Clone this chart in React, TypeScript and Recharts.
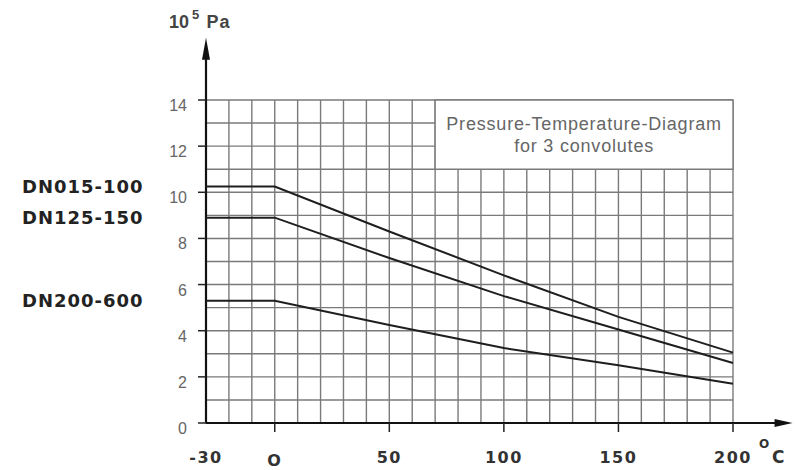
import { LineChart, Line, XAxis, YAxis, CartesianGrid, ReferenceArea, ReferenceLine, ReferenceDot } from "recharts";

// temperature in °C, pressure in 10^5 Pa
const TEMPS = [-30, 0, 50, 100, 150, 200];
const DN015_100 = [10.25, 10.25, 8.3, 6.4, 4.6, 3.05];
const DN125_150 = [8.9, 8.9, 7.15, 5.5, 4.05, 2.6];
const DN200_600 = [5.3, 5.3, 4.25, 3.25, 2.5, 1.7];

const SERIES = [
  { key: "dn015", name: "DN015-100", values: DN015_100 },
  { key: "dn125", name: "DN125-150", values: DN125_150 },
  { key: "dn200", name: "DN200-600", values: DN200_600 },
];

const X_TICKS = [-30, 0, 50, 100, 150, 200];
const Y_TICKS = [0, 2, 4, 6, 8, 10, 12, 14];
const GRID_T = [-30, -20, -10, 0, 10, 20, 30, 40, 50, 60, 70, 80, 90, 100, 110, 120, 130, 140, 150, 160, 170, 180, 190, 200];
const GRID_P = [0, 1, 2, 3, 4, 5, 6, 7, 8, 9, 10, 11, 12, 13, 14];

const BOX_TEXT = ["Pressure-Temperature-Diagram", "for 3 convolutes"];
const Y_UNIT = "Pa";

const rows = TEMPS.map((t, i) => {
  const row: Record<string, number> = { t };
  SERIES.forEach((s) => (row[s.key] = s.values[i]));
  return row;
});

const BOLD = "'DejaVu Sans', sans-serif";
const ARIAL = "'Liberation Sans', Arial, sans-serif";
const NARROW = "'Liberation Sans Narrow', 'Liberation Sans', Arial, sans-serif";

function XTick(props: any) {
  const { x, y, payload } = props;
  const v = payload.value;
  return (
    <g>
      {v !== -30 && <line x1={x} x2={x} y1={y} y2={y + 9} stroke="#222" strokeWidth={1.5} />}
      <text x={x} y={y + (v === 0 ? 43 : 40)} textAnchor="middle" fontFamily={BOLD} fontWeight="bold" fontSize={16} letterSpacing={1.5} fill="#333">
        {v === 0 ? "O" : v}
      </text>
      {v === 200 && (
        <text fontFamily={BOLD} fontWeight="bold" fill="#333">
          <tspan x={x + 26} y={y + 25} fontSize={12}>O</tspan>
          <tspan x={x + 39} y={y + 40} fontSize={17}>C</tspan>
        </text>
      )}
    </g>
  );
}

function YTick(props: any) {
  const { x, y, payload } = props;
  return (
    <g>
      <line x1={x - 8} x2={x} y1={y} y2={y} stroke="#222" strokeWidth={1.5} />
      <text x={x - 19} y={y + 11} textAnchor="end" fontFamily={NARROW} fontSize={16} fill="#666">
        {payload.value}
      </text>
    </g>
  );
}

const dnLabel = (name: string) => (props: any) =>
  props.index === 0 ? (
    <text x={props.x - 184} y={props.y + 6.5} fontFamily={BOLD} fontWeight="bold" fontSize={18} letterSpacing={1} fill="#222">
      {name}
    </text>
  ) : null;

const boxLabel = (props: any) => {
  const { x, y, width } = props.viewBox;
  return (
    <text textAnchor="middle" fontFamily={ARIAL} fontSize={18} letterSpacing={0.8} fill="#666">
      <tspan x={x + width / 2} y={y + 30}>{BOX_TEXT[0]}</tspan>
      <tspan x={x + width / 2} y={y + 52}>{BOX_TEXT[1]}</tspan>
    </text>
  );
};

const upArrow = (props: any) => {
  const { cx, cy } = props;
  return (
    <g>
      <path d={`M${cx},${cy} L${cx - 4},${cy + 22} L${cx + 4},${cy + 22} Z`} fill="#111" />
      <text fontFamily={ARIAL} fontWeight="bold" fill="#444">
        <tspan x={cx - 37} y={cy - 10} fontSize={18}>10</tspan>
        <tspan x={cx - 14} y={cy - 19} fontSize={13}>5</tspan>
        <tspan x={cx + 0.5} y={cy - 10} fontSize={18} letterSpacing={1}>{Y_UNIT}</tspan>
      </text>
    </g>
  );
};

const rightArrow = (props: any) => {
  const { cx, cy } = props;
  return <path d={`M${cx},${cy} L${cx - 18},${cy - 4} L${cx - 18},${cy + 4} Z`} fill="#111" />;
};

export default function App() {
  return (
    <div style={{ position: "absolute", left: 0, top: 0, background: "#fff" }}>
      <LineChart width={797} height={470} data={rows} margin={{ top: 100, right: 64, bottom: 0, left: 0 }}>
        <CartesianGrid stroke="#7a7a7a" strokeWidth={1.4} horizontalValues={GRID_P} verticalValues={GRID_T} />
        <XAxis
          dataKey="t"
          type="number"
          domain={[-30, 200]}
          ticks={X_TICKS}
          interval={0}
          height={47}
          axisLine={false}
          tickLine={false}
          tickSize={0}
          tickMargin={0}
          tick={<XTick />}
        />
        <YAxis
          type="number"
          domain={[0, 14]}
          ticks={Y_TICKS}
          interval={0}
          width={206}
          axisLine={false}
          tickLine={false}
          tickSize={0}
          tickMargin={0}
          tick={<YTick />}
        />
        <ReferenceArea x1={70} x2={200} y1={11} y2={14} fill="#fff" fillOpacity={1} stroke="#7a7a7a" strokeWidth={1.4} label={boxLabel} />
        <ReferenceLine segment={[{ x: -30, y: 0 }, { x: 224, y: 0 }]} stroke="#111" strokeWidth={2.2} ifOverflow="visible" />
        <ReferenceLine segment={[{ x: -30, y: 0 }, { x: -30, y: 16 }]} stroke="#111" strokeWidth={2.2} ifOverflow="visible" />
        <ReferenceDot x={226} y={0} r={0} ifOverflow="visible" shape={rightArrow} />
        <ReferenceDot x={-30} y={16.7} r={0} ifOverflow="visible" shape={upArrow} />
        {SERIES.map((s) => (
          <Line
            key={s.key}
            dataKey={s.key}
            type="linear"
            stroke="#1e1e1e"
            strokeWidth={2}
            dot={false}
            isAnimationActive={false}
            label={dnLabel(s.name)}
          />
        ))}
      </LineChart>
    </div>
  );
}
